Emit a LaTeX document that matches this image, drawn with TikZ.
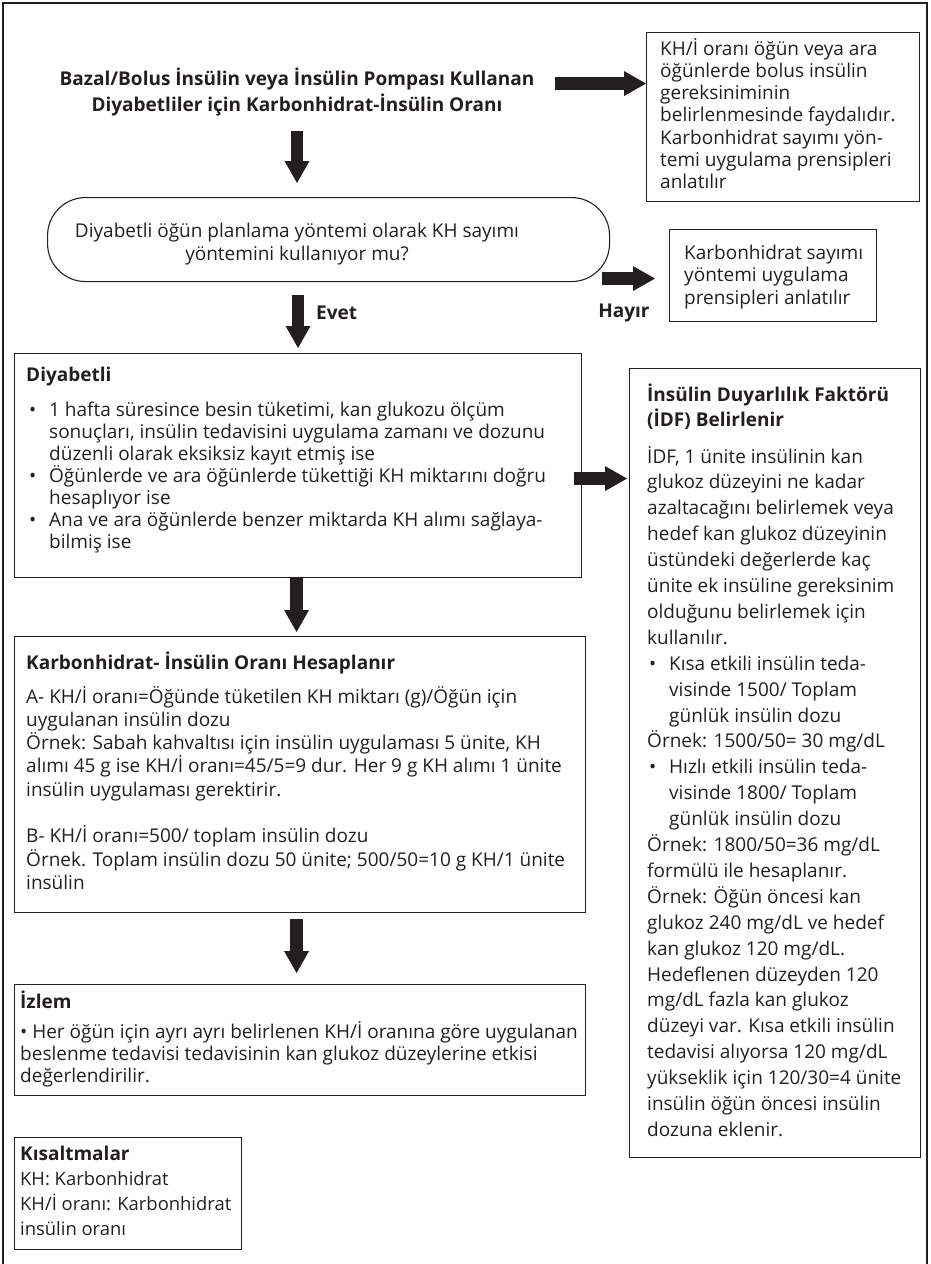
\documentclass[tikz,border=0pt]{standalone}
\usepackage{fontspec}
\setmainfont{Open Sans}
\usetikzlibrary{arrows.meta,calc}
\definecolor{ink}{HTML}{231F20}
% bullet with its hanging indent: #1 = bullet indent, #2 = text indent
\newcommand{\bul}[2]{\hspace*{#1}\makebox[\dimexpr#2-#1\relax][l]{\textbullet}}
\newcommand{\tb}[2]{\begin{minipage}[t]{#1}\raggedright #2\end{minipage}}
\newcommand{\tbc}[2]{\begin{minipage}[t]{#1}\centering #2\end{minipage}}
\begin{document}
\begin{tikzpicture}[x=1pt,y=-1pt,
  frame/.style={draw=ink, line width=1.8pt},
  box/.style={draw=ink, line width=1.1pt, inner sep=0pt, anchor=north west},
  txt/.style={inner sep=0pt, anchor=base west, text=ink},
  head/.style={txt, font=\bfseries\fontsize{19}{25}\selectfont},
  blockarrow/.style={draw=ink, line width=12.5pt,
    -{Triangle[length=22pt, width=25pt, line width=0pt]}}
]
\useasboundingbox (0,0) rectangle (930,1264);
\draw[frame] (3,1275) -- (3,3) -- (927,3) -- (927,1275);

% title
\node[txt, anchor=base, font=\bfseries\fontsize{19}{26.5}\selectfont] (title) at (297,85)
  {\tbc{500pt}{Bazal/Bolus İnsülin veya İnsülin Pompası Kullanan\\
   Diyabetliler için Karbonhidrat-İnsülin Oranı}};

% boxes
\node[box, minimum width=273pt, minimum height=169pt] (tr) at (646,32) {};
\node[box, minimum width=207pt, minimum height=92pt] (ks) at (669,229) {};
\node[box, rounded corners=38pt, minimum width=562pt, minimum height=84pt] (stad) at (47,197) {};
\node[box, minimum width=567pt, minimum height=224pt] (diy) at (14,353) {};
\node[box, minimum width=291pt, minimum height=789pt] (idf) at (629,368) {};
\node[box, minimum width=571pt, minimum height=276pt] (karb) at (14,636) {};
\node[box, minimum width=571pt, minimum height=111pt] (izlem) at (14,984) {};
\node[box, minimum width=227pt, minimum height=112pt] (kis) at (14,1137) {};

% texts
\node[txt, font=\fontsize{19}{22.3}\selectfont] (trtext) at (660,55)
  {\tb{265pt}{KH/İ oranı öğün veya ara\\
   öğünlerde bolus insülin\\
   gereksiniminin\\
   belirlenmesinde faydalıdır.\\
   Karbonhidrat sayımı yön-\\
   temi uygulama prensipleri\\
   anlatılır}};

\node[txt, font=\fontsize{19}{22.5}\selectfont] (kstext) at (684,259)
  {\tb{200pt}{Karbonhidrat sayımı\\
   yöntemi uygulama\\
   prensipleri anlatılır}};

\node[txt, anchor=base, font=\fontsize{19}{23}\selectfont] (qtext) at (297,237)
  {\tbc{540pt}{Diyabetli öğün planlama yöntemi olarak KH sayımı\\
   yöntemini kullanıyor mu?}};

\node[head] (diyhead) at (26,381) {Diyabetli};
\node[txt, font=\fontsize{19}{22}\selectfont] (diybody) at (26,416)
  {\tb{560pt}{\bul{3pt}{23pt}1 hafta süresince besin tüketimi, kan glukozu ölçüm\\
   \hspace*{23pt}sonuçları, insülin tedavisini uygulama zamanı ve dozunu\\
   \hspace*{23pt}düzenli olarak eksiksiz kayıt etmiş ise\\
   \bul{3pt}{23pt}Öğünlerde ve ara öğünlerde tükettiği KH miktarını doğru\\
   \hspace*{23pt}hesaplıyor ise\\
   \bul{3pt}{23pt}Ana ve ara öğünlerde benzer miktarda KH alımı sağlaya-\\
   \hspace*{23pt}bilmiş ise}};

\node[head] (idfhead) at (647,401)
  {\tb{275pt}{İnsülin Duyarlılık Faktörü\\(İDF) Belirlenir}};
\node[txt, font=\fontsize{19}{25.9}\selectfont] (idfbody) at (647,463)
  {\tb{275pt}{İDF, 1 ünite insülinin kan\\
   glukoz düzeyini ne kadar\\
   azaltacağını belirlemek veya\\
   hedef kan glukoz düzeyinin\\
   üstündeki değerlerde kaç\\
   ünite ek insüline gereksinim\\
   olduğunu belirlemek için\\
   kullanılır.\\
   \bul{2pt}{22pt}Kısa etkili insülin teda-\\
   \hspace*{22pt}visinde 1500/ Toplam\\
   \hspace*{22pt}günlük insülin dozu\\
   Örnek: 1500/50= 30 mg/dL\\
   \bul{2pt}{22pt}Hızlı etkili insülin teda-\\
   \hspace*{22pt}visinde 1800/ Toplam\\
   \hspace*{22pt}günlük insülin dozu\\
   Örnek: 1800/50=36 mg/dL\\
   formülü ile hesaplanır.\\
   Örnek: Öğün öncesi kan\\
   glukoz 240 mg/dL ve hedef\\
   kan glukoz 120 mg/dL.\\
   Hedeflenen düzeyden 120\\
   mg/dL fazla kan glukoz\\
   düzeyi var. Kısa etkili insülin\\
   tedavisi alıyorsa 120 mg/dL\\
   yükseklik için 120/30=4 ünite\\
   insülin öğün öncesi insülin\\
   dozuna eklenir.}};

\node[head] (karbhead) at (26,669) {Karbonhidrat- İnsülin Oranı Hesaplanır};
\node[txt, font=\fontsize{19}{23.3}\selectfont] (karbbody) at (26,703)
  {\tb{570pt}{A- KH/İ oranı=Öğünde tüketilen KH miktarı (g)/Öğün için\\
   uygulanan insülin dozu\\
   Örnek: Sabah kahvaltısı için insülin uygulaması 5 ünite, KH\\
   alımı 45 g ise KH/İ oranı=45/5=9 dur. Her 9 g KH alımı 1 ünite\\
   insülin uygulaması gerektirir.\\
   \mbox{}\\
   B- KH/İ oranı=500/ toplam insülin dozu\\
   Örnek. Toplam insülin dozu 50 ünite; 500/50=10 g KH/1 ünite\\
   insülin}};

\node[head] (izlemhead) at (20,1008) {İzlem};
\node[txt, font=\fontsize{19}{22}\selectfont] (izlembody) at (20,1038)
  {\tb{580pt}{\textbullet{} Her öğün için ayrı ayrı belirlenen KH/İ oranına göre uygulanan\\
   beslenme tedavisi tedavisinin kan glukoz düzeylerine etkisi\\
   değerlendirilir.}};

\node[head] (kishead) at (20,1160) {Kısaltmalar};
\node[txt, font=\fontsize{18.4}{25}\selectfont] (kisbody) at (20,1185)
  {\tb{230pt}{KH: Karbonhidrat\\
   KH/İ oranı: Karbonhidrat\\
   insülin oranı}};

% branch labels
\node[txt, anchor=base, font=\bfseries\fontsize{19}{22}\selectfont] (hayir) at (624,317) {Hayır};
\node[txt, font=\bfseries\fontsize{19}{22}\selectfont] (evet) at (316,319) {Evet};

% connectors
\draw[blockarrow] ($(title.east |- tr.west)+(8,-33.5)$) -- ($(tr.west)+(0,-33.5)$);
\draw[blockarrow] ($(title.south)+(0,15)$) -- ($(title.south |- stad.north)+(0,-14)$);
\draw[blockarrow] ($(stad.east)+(-8,39)$) -- ($(ks.west)+(-14,3)$);
\draw[blockarrow] ($(diy.north |- stad.south)+(0,13)$) -- ($(diy.north)+(0,-5)$);
\draw[blockarrow] ($(diy.east)+(-8,13)$) coordinate (d5) -- ($(idf.west |- d5)+(-2,0)$);
\draw[blockarrow] ($(diy.south)+(-1.5,0)$) -- ($(diy.south |- karb.north)+(-1.5,-4)$);
\draw[blockarrow] ($(karb.south)+(-3.5,6)$) -- ($(karb.south |- izlem.north)+(-3.5,-11)$);
\end{tikzpicture}
\end{document}
